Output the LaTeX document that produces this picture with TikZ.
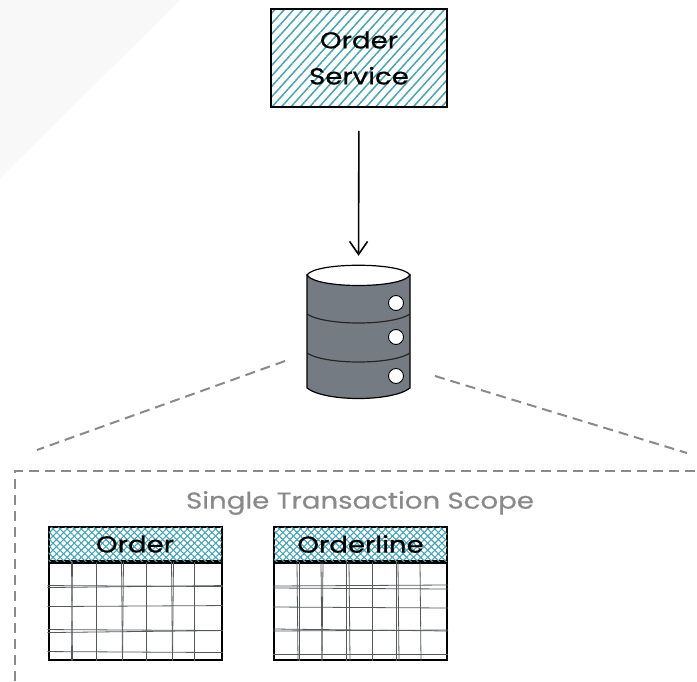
\documentclass[tikz,border=0pt]{standalone}
\usepackage{fontspec}
\setmainfont[FakeStretch=1.2,FakeBold=0.6]{Poppins}
\usetikzlibrary{patterns.meta,shapes.geometric,arrows.meta,positioning}
\definecolor{hatchteal}{HTML}{45A5B5}
\definecolor{dbgray}{HTML}{747B82}
\definecolor{scopegray}{HTML}{8A8A8A}
\definecolor{gridgray}{HTML}{55595C}
\definecolor{cornergray}{HTML}{F8F8F8}
\tikzset{
  ink/.style={draw=black, line width=2pt},
  service/.style={ink, pattern={Lines[angle=48,distance=7pt,line width=1.5pt]}, pattern color=hatchteal,
    minimum width=176pt, minimum height=98pt, align=center, font=\fontsize{23}{36}\selectfont},
  tablehead/.style={ink, pattern={Lines[angle=45,distance=5pt,line width=1.1pt]}, pattern color=hatchteal,
    postaction={pattern={Lines[angle=-45,distance=5pt,line width=1.1pt]}, pattern color=hatchteal},
    minimum width=173pt, minimum height=34pt, inner sep=0pt, font=\fontsize{23}{28}\selectfont},
  tablebody/.style={ink, minimum width=173pt, minimum height=97pt},
  gridline/.style={draw=gridgray, line width=0.8pt},
  scopeline/.style={draw=scopegray, line width=2pt, dash pattern=on 10pt off 6pt},
  bolt/.style={circle, draw=black, line width=0.9pt, fill=white, minimum size=15pt, inner sep=0pt},
  band/.style={draw=black!85, line width=1.2pt},
  dbbody/.style={minimum width=103pt, minimum height=133pt, inner sep=0pt},
}
\newcommand{\tablegrid}[3]{%
  \foreach \x/\d in {#2} \draw[gridline] ([xshift=\x]#1.north west) -- ([xshift=\x+\d]#1.south west);
  \foreach \y/\d in {#3} \draw[gridline] ([yshift=-\y]#1.north west) -- ([yshift=-\y-\d]#1.north east);
}
\begin{document}
\begin{tikzpicture}[x=1pt,y=-1pt]
\useasboundingbox (0,0) rectangle (697,681);
\fill[cornergray] (0,0) -- (180,0) -- (0,178) -- cycle;

% service and database
\node[service] (orderservice) at (359,58) {Order\\Service};
\node[dbbody] (db) at (358.5,331.5) {};
\draw[draw=black, line width=1.2pt, fill=dbgray] (307,275) -- (307,388)
  .. controls (325,402) and (392,402) .. (410,388) -- (410,275) -- cycle;
\draw[draw=black, line width=1.2pt, fill=white] (307,275)
  .. controls (315,262) and (402,262) .. (410,275)
  .. controls (402,289) and (315,289) .. (307,275) -- cycle;
\draw[-{Straight Barb[length=13pt,width=18pt]}, line width=1.6pt, shorten <=23pt, shorten >=9pt]
  (orderservice.south) -- (db.north);
\draw[band] (307,314) .. controls (325,326) and (392,326) .. (410,314);
\draw[band] (307,353) .. controls (325,365) and (392,365) .. (410,353);
\node[bolt] (bolta) at (396,303) {};
\node[bolt] (boltb) at (396,337) {};
\node[bolt] (boltc) at (396,376) {};

% scope
\coordinate (scopeleft) at (285,361);
\coordinate (scoperight) at (435,376);
\coordinate (scopea) at (37,450);
\coordinate (scopeb) at (687,453);
\coordinate (frametop) at (15,471);
\draw[scopeline] (scopeleft) -- (scopea);
\draw[scopeline] (scoperight) -- (scopeb);
\draw[scopeline] (15,681) -- (frametop) -- (697,471);
\node[text=scopegray, font=\fontsize{23}{28}\selectfont] (scopelabel) at (360,503) {Single Transaction Scope};

% tables
\node[tablehead] (orderhead) at (135,544) {Order};
\node[tablebody, below=0pt of orderhead] (orderbody) {};
\node[tablehead] (orderlinehead) at (360.5,544) {Orderline};
\node[tablebody, below=0pt of orderlinehead] (orderlinebody) {};
\tablegrid{orderbody}{24/1,25/-1,49/0,74/1,76/-1,99/0,124/1,126/-1,147/0}{24/1,26/-2,45/-1,68/1,71/-2,90/1}
\tablegrid{orderlinebody}{24/1,26/0,48/1,50/-1,73/0,76/1,99/0,123/0,125/1,147/1}{24/-1,26/1,45/1,67/2,69/-1,92/0}
\end{tikzpicture}
\end{document}
